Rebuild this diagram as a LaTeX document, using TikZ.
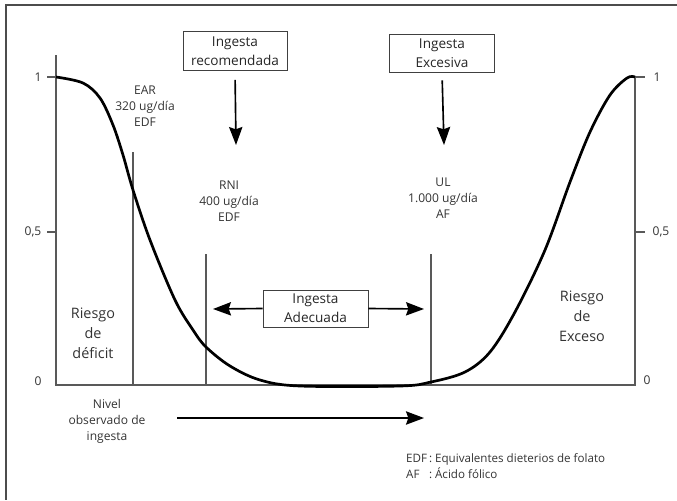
\documentclass[tikz,border=0pt]{standalone}
\usepackage{fontspec}
\setmainfont{Open Sans}
\usepackage{tikz}
\usetikzlibrary{arrows.meta}
\newcommand{\boxtext}{\fontsize{11.6}{16}\selectfont}
\newcommand{\bigtext}{\fontsize{12.3}{17}\selectfont}
\newcommand{\smalltext}{\fontsize{10.3}{13.6}\selectfont}

\tikzset{
  box/.style={draw=black!75, line width=0.8pt, align=center, font=\boxtext, text=black!85},
  lbl/.style={align=center, font=\smalltext, text=black!80},
  big/.style={align=center, font=\bigtext, text=black!80},
  axis/.style={draw=black!65, line width=1.3pt},
  level/.style={draw=black!65, line width=2pt},
  arr/.style={-{Stealth[length=5.4mm, width=4mm, inset=0.7mm]}, line width=1.4pt},
}

\begin{document}
\begin{tikzpicture}[x=0.03cm, y=-0.03cm]
                \useasboundingbox (0,0) rectangle (677,500);
                \draw[black!70, line width=0.9pt] (677,5) -- (6,5) -- (6,500);

                \coordinate (Ltop) at (56,55);
                \coordinate (O) at (56,385);
                \coordinate (R) at (635,385);
                \coordinate (Rtop) at (635,77);
                \draw[axis] (Ltop) -- (O) -- (R) -- (Rtop);
                \draw[axis] (47,77) -- (56,77);
                \draw[axis] (47,232) -- (56,232);
                \draw[axis] (635,77) -- (645,77);
                \draw[axis] (635,232) -- (645,232);

                \node[lbl] (L1) at (38,77) {1};
                \node[lbl] (L05) at (33,232) {0,5};
                \node[lbl] (L0) at (38,381) {0};
                \node[lbl] (R1) at (657,77) {1};
                \node[lbl] (R05) at (661,232) {0,5};
                \node[lbl] (R0) at (647,380) {0};

                \coordinate (EARtop) at (133,152);
                \coordinate (EARbot) at (133,385);
                \coordinate (RNItop) at (206,254);
                \coordinate (RNIbot) at (206,385);
                \coordinate (ULtop) at (431,254);
                \coordinate (ULbot) at (431,385);
                \draw[level] (EARtop) -- (EARbot);
                \draw[level] (RNItop) -- (RNIbot);
                \draw[level] (ULtop) -- (ULbot);

                \draw[black, line width=2.3pt] plot[smooth, tension=0.55] coordinates {
                  (56,77) (83,83) (100,98) (113,125) (123,155) (133,190) (150,240)
                  (175,300) (193,330) (206,347) (230,366) (260,380) (300,386)
                  (400,386) (431,382) (465,372) (490,352) (515,312) (545,250)
                  (570,182) (590,132) (610,95) (627,78) (635,77)};

                \node[lbl] (EAR) at (145,106) {EAR\\320 ug/día\\EDF};
                \node[lbl] (RNI) at (229,201) {RNI\\400 ug/día\\EDF};
                \node[lbl] (UL) at (443,198) {UL\\1.000 ug/día\\AF};

                \node[box, minimum width=3.12cm, minimum height=1.17cm] (Rec) at (235,51) {Ingesta\\recomendada};
                \node[box, minimum width=3.15cm, minimum height=1.14cm] (Exc) at (442,53) {Ingesta\\Excesiva};
                \node[box, minimum width=3.15cm, minimum height=1.11cm] (Ade) at (315.5,308.5) {Ingesta\\Adecuada};

                \coordinate (RecTip) at (236,145);
                \coordinate (ExcTip) at (444,145);
                \coordinate (AdeL) at (213,309);
                \coordinate (AdeR) at (424,309);
                \draw[arr, shorten <=0.27cm] (Rec.south) -- (RecTip);
                \draw[arr, shorten <=0.24cm] (Exc.south) -- (ExcTip);
                \draw[arr] (Ade.west) -- (AdeL);
                \draw[arr] (Ade.east) -- (AdeR);

                \node[big] (Def) at (93,333) {Riesgo\\de\\déficit};
                \node[big] (Exs) at (582,316) {Riesgo\\de\\Exceso};

                \node[lbl] (Niv) at (107,421) {Nivel\\observado de\\ingesta};
                \coordinate (NivA) at (177,418);
                \coordinate (NivB) at (424,418);
                \draw[arr] (NivA) -- (NivB);

                \node[lbl, anchor=north west, inner sep=0pt, font=\fontsize{9.9}{12.8}\selectfont] (Leg) at (406,452)
                  {\begin{tabular}{@{}l@{\,:\ }l@{}}EDF & Equivalentes dieterios de folato\\AF & Ácido fólico\end{tabular}};
            \end{tikzpicture}
\end{document}
